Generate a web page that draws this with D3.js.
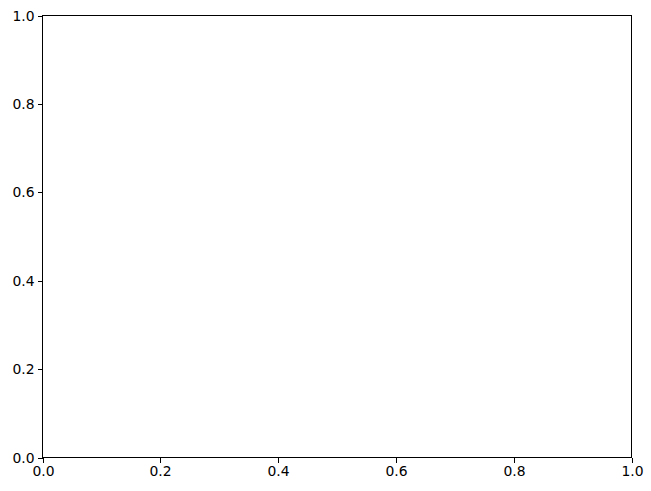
<!DOCTYPE html>
<html><head><meta charset="utf-8">
<script src="https://cdn.jsdelivr.net/npm/d3@7"></script>
<style>body{margin:0;background:#fff}svg{display:block}</style>
</head><body><svg id="c" width="651" height="491"></svg>
<script>
const xTicks = [0, 0.2, 0.4, 0.6, 0.8, 1.0];
const yTicks = [0, 0.2, 0.4, 0.6, 0.8, 1.0];
const xDomain = [0, 1];
const yDomain = [0, 1];

const W = 651, H = 491;
const m = {left: 42.5, top: 15.5, right: 651 - 631.5, bottom: 491 - 457.5};
const svg = d3.select("#c");
const x = d3.scaleLinear().domain(xDomain).range([m.left, W - m.right]);
const y = d3.scaleLinear().domain(yDomain).range([H - m.bottom, m.top]);

const fmt = d3.format(".1f");
const gx = svg.append("g").attr("transform", `translate(0,${H - m.bottom})`)
  .call(d3.axisBottom(x).tickValues(xTicks).tickFormat(fmt).tickSize(4.9).tickPadding(3.5).tickSizeOuter(0));
const gy = svg.append("g").attr("transform", `translate(${m.left},0)`)
  .call(d3.axisLeft(y).tickValues(yTicks).tickFormat(fmt).tickSize(4.9).tickPadding(3.5).tickSizeOuter(0));
[gx, gy].forEach(g => {
  g.select(".domain").remove();
  g.selectAll(".tick").attr("transform", function() {
    return d3.select(this).attr("transform").replace(/([\d.]+)/g, v => String(Math.floor(+v) + 0.5));
  });
  g.selectAll("line").attr("stroke", "#000").attr("stroke-width", 1).attr("shape-rendering", "crispEdges");
  g.selectAll("text").attr("font-family", "DejaVu Sans").attr("font-size", "13.9px").attr("fill", "#000");
});
svg.append("rect").attr("x", m.left).attr("y", m.top)
  .attr("width", W - m.left - m.right).attr("height", H - m.top - m.bottom)
  .attr("fill", "none").attr("stroke", "#000").attr("stroke-width", 1).attr("shape-rendering", "crispEdges");
</script></body></html>
